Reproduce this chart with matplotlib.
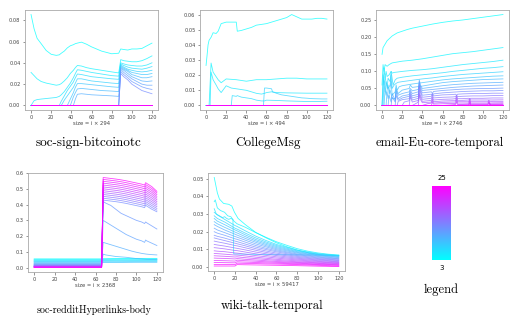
import matplotlib
matplotlib.use('Agg')

import matplotlib.pyplot as plt
from matplotlib import colors, colorbar

# k goes from 3 (cyan) to 25 (magenta)
k_values = [3, 4, 5, 6, 7, 8, 9, 10, 11, 12, 13, 14, 15, 16, 17, 18, 19, 20, 21, 22, 23, 24, 25]

# ---- soc-sign-bitcoinotc ----
btc_x = [
    [0, 3, 6, 10, 15, 20, 25, 28, 30, 33, 36, 39, 42, 44, 46, 50, 55, 60, 70, 80, 87, 89, 92, 96, 100, 105, 110, 115, 120],
    [0, 3, 6, 10, 15, 20, 25, 28, 30, 33, 36, 39, 42, 44, 46, 50, 55, 60, 70, 80, 87, 89, 92, 96, 100, 105, 110, 115, 120],
    [0, 3, 6, 10, 15, 20, 25, 28, 30, 33, 36, 39, 42, 44, 46, 50, 55, 60, 70, 80, 87, 89, 92, 96, 100, 105, 110, 115, 120],
    [0, 28, 30, 33, 36, 39, 42, 44, 46, 50, 55, 60, 70, 80, 87, 89, 92, 96, 100, 105, 110, 115, 120],
    [0, 30, 33, 36, 39, 42, 44, 46, 50, 55, 60, 70, 80, 87, 89, 92, 96, 100, 105, 110, 115, 120],
    [0, 36, 39, 42, 44, 46, 50, 55, 60, 70, 80, 87, 89, 92, 96, 100, 105, 110, 115, 120],
    [0, 39, 42, 44, 46, 50, 55, 60, 70, 80, 87, 89, 92, 96, 100, 105, 110, 115, 120],
    [0, 42, 44, 46, 50, 55, 60, 70, 80, 87, 89, 92, 96, 100, 105, 110, 115, 120],
    [0, 87, 89, 92, 96, 100, 105, 110, 115, 120],
    [0, 87, 89, 92, 96, 100, 105, 110, 115, 120],
    [0, 87, 89, 92, 96, 100, 105, 110, 115, 120],
    [0, 120], [0, 120], [0, 120], [0, 120], [0, 120], [0, 120],
    [0, 120], [0, 120], [0, 120], [0, 120], [0, 120], [0, 120],
]
btc_y = [
    [0.0853, 0.072, 0.063, 0.058, 0.0516, 0.048, 0.047, 0.0475, 0.049, 0.051, 0.054, 0.056, 0.057, 0.058, 0.0585,
     0.0594, 0.0575, 0.055, 0.051, 0.0485, 0.049, 0.053, 0.0525, 0.052, 0.053, 0.053, 0.0535, 0.056, 0.0585],
    [0.031, 0.028, 0.025, 0.0225, 0.021, 0.020, 0.019, 0.0195, 0.0205, 0.023, 0.026, 0.030, 0.033, 0.0355, 0.0375,
     0.037, 0.0355, 0.0345, 0.033, 0.0315, 0.0305, 0.043, 0.042, 0.0415, 0.041, 0.041, 0.042, 0.044, 0.0465],
    [0.0, 0.0045, 0.0055, 0.006, 0.0065, 0.007, 0.0075, 0.0085, 0.010, 0.013, 0.017, 0.021, 0.026, 0.030, 0.0335,
     0.033, 0.032, 0.031, 0.0295, 0.028, 0.0275, 0.040, 0.039, 0.038, 0.0375, 0.037, 0.037, 0.038, 0.040],
    [0, 0, 0.004, 0.009, 0.014, 0.018, 0.022, 0.026, 0.0295, 0.029, 0.028, 0.027, 0.026, 0.025, 0.0245,
     0.039, 0.0375, 0.036, 0.035, 0.0345, 0.034, 0.035, 0.0365],
    [0, 0, 0.005, 0.009, 0.013, 0.017, 0.021, 0.025, 0.025, 0.024, 0.023, 0.022, 0.021, 0.0205,
     0.038, 0.036, 0.034, 0.033, 0.032, 0.0315, 0.032, 0.033],
    [0, 0, 0.006, 0.012, 0.017, 0.0205, 0.0205, 0.020, 0.0195, 0.0185, 0.0175, 0.017,
     0.037, 0.035, 0.033, 0.031, 0.030, 0.029, 0.029, 0.030],
    [0, 0, 0.008, 0.012, 0.0155, 0.016, 0.0155, 0.015, 0.014, 0.0135, 0.013,
     0.036, 0.034, 0.032, 0.029, 0.0275, 0.026, 0.026, 0.027],
    [0, 0, 0.006, 0.0105, 0.011, 0.0105, 0.010, 0.0095, 0.009, 0.0085,
     0.035, 0.033, 0.030, 0.027, 0.025, 0.023, 0.0225, 0.023],
    [0, 0, 0.034, 0.031, 0.028, 0.025, 0.0225, 0.020, 0.019, 0.019],
    [0, 0, 0.032, 0.029, 0.026, 0.0225, 0.020, 0.0175, 0.016, 0.015],
    [0, 0, 0.030, 0.027, 0.024, 0.020, 0.017, 0.014, 0.0125, 0.011],
    [0, 0], [0, 0], [0, 0], [0, 0], [0, 0], [0, 0],
    [0, 0], [0, 0], [0, 0], [0, 0], [0, 0], [0, 0],
]

# ---- CollegeMsg ----
msg_x = [
    [0, 1, 2, 3, 4, 5, 7, 10, 12, 15, 20, 25, 30, 31, 35, 40, 45, 50, 55, 60, 65, 70, 75, 80, 85, 90, 95, 100, 105, 110, 115, 120],
    [0, 3, 4, 5, 7, 10, 12, 15, 20, 30, 40, 50, 60, 70, 80, 90, 100, 110, 120],
    [0, 4, 5, 7, 10, 12, 15, 20, 25, 30, 35, 40, 45, 50, 55, 58, 60, 65, 70, 80, 90, 100, 110, 120],
    [0, 25, 26, 30, 31, 35, 40, 45, 50, 55, 58, 60, 70, 80, 90, 100, 110, 120],
    [0, 57, 58, 60, 65, 66, 70, 75, 80, 85, 90, 95, 100, 105, 110, 115, 120],
    [0, 120], [0, 120], [0, 120], [0, 120], [0, 120], [0, 120], [0, 120], [0, 120], [0, 120],
    [0, 120], [0, 120], [0, 120], [0, 120], [0, 120], [0, 120], [0, 120], [0, 120], [0, 120],
]
msg_y = [
    [0.0264, 0.033, 0.040, 0.043, 0.044, 0.045, 0.048, 0.0475, 0.049, 0.054, 0.055, 0.055, 0.055, 0.049, 0.0495, 0.0505,
     0.0515, 0.053, 0.0535, 0.054, 0.055, 0.056, 0.057, 0.058, 0.060, 0.0585, 0.057, 0.057, 0.057, 0.0575, 0.0575, 0.057],
    [0, 0, 0.014, 0.028, 0.022, 0.019, 0.017, 0.015, 0.0175, 0.017, 0.016, 0.017, 0.017, 0.0175, 0.018, 0.018, 0.0175,
     0.0175, 0.0175],
    [0, 0, 0.022, 0.017, 0.0135, 0.011, 0.0085, 0.013, 0.0115, 0.011, 0.0105, 0.010, 0.009, 0.008, 0.0075, 0.008, 0.0085,
     0.009, 0.0085, 0.0083, 0.0082, 0.0081, 0.0081, 0.0081],
    [0, 0, 0.0065, 0.006, 0.0065, 0.0055, 0.005, 0.0045, 0.0035, 0.003, 0.003, 0.0035, 0.0033, 0.003, 0.0028, 0.0026,
     0.0026, 0.0028],
    [0, 0, 0.0115, 0.0115, 0.011, 0.009, 0.008, 0.007, 0.0065, 0.006, 0.0055, 0.005, 0.0048, 0.0045, 0.0044, 0.0043,
     0.0043],
    [0, 0], [0, 0], [0, 0], [0, 0], [0, 0], [0, 0], [0, 0], [0, 0], [0, 0],
    [0, 0], [0, 0], [0, 0], [0, 0], [0, 0], [0, 0], [0, 0], [0, 0], [0, 0],
]

# ---- email-Eu-core-temporal ----
email_x = [
    [0, 1, 3, 5, 10, 15, 20, 25, 30, 40, 50, 60, 70, 80, 90, 100, 110, 120],
    [0, 1, 2, 3, 5, 7, 10, 20, 30, 40, 50, 60, 70, 80, 90, 100, 110, 120],
    [0, 1, 2, 3, 4, 5, 7, 9, 10, 12, 15, 20, 30, 40, 50, 60, 70, 80, 90, 100, 110, 120],
    [0, 1, 2, 3, 5, 6, 8, 9, 11, 13, 15, 20, 30, 40, 50, 60, 70, 80, 90, 100, 110, 120],
    [0, 1, 2, 3, 4, 6, 8, 9, 10, 12, 14, 16, 20, 30, 40, 50, 60, 70, 80, 90, 100, 110, 120],
    [0, 2, 3, 4, 6, 7, 9, 10, 13, 14, 15, 17, 20, 30, 40, 50, 60, 70, 80, 90, 100, 110, 120],
    [0, 4, 5, 6, 8, 10, 13, 14, 16, 20, 27, 28, 30, 40, 50, 60, 70, 80, 90, 100, 110, 120],
    [0, 6, 7, 9, 10, 13, 14, 16, 20, 27, 28, 30, 36, 37, 38, 40, 50, 60, 70, 80, 90, 100, 110, 120],
    [0, 9, 10, 13, 14, 16, 20, 27, 28, 30, 36, 37, 38, 40, 50, 60, 70, 80, 90, 100, 110, 120],
    [0, 13, 14, 16, 20, 27, 28, 30, 36, 37, 38, 40, 49, 50, 51, 60, 70, 80, 90, 100, 110, 120],
    [0, 15, 16, 20, 27, 28, 30, 36, 37, 38, 40, 49, 50, 51, 60, 70, 80, 90, 100, 110, 120],
    [0, 20, 22, 27, 28, 30, 36, 37, 38, 40, 49, 50, 51, 60, 70, 73, 74, 75, 80, 90, 100, 110, 120],
    [0, 27, 28, 30, 36, 37, 38, 40, 49, 50, 51, 60, 70, 73, 74, 75, 80, 90, 100, 110, 120],
    [0, 30, 35, 36, 37, 38, 40, 49, 50, 51, 60, 70, 73, 74, 75, 80, 86, 87, 88, 90, 100, 110, 120],
    [0, 36, 37, 38, 40, 49, 50, 51, 60, 70, 73, 74, 75, 80, 86, 87, 88, 90, 100, 110, 120],
    [0, 40, 45, 49, 50, 51, 60, 70, 73, 74, 75, 80, 86, 87, 88, 100, 105, 106, 107, 110, 120],
    [0, 49, 50, 51, 60, 70, 73, 74, 75, 80, 86, 87, 88, 100, 105, 106, 107, 110, 120],
    [0, 60, 70, 73, 74, 75, 80, 86, 87, 88, 100, 105, 106, 107, 110, 120],
    [0, 74, 75, 80, 86, 87, 88, 100, 105, 106, 107, 110, 120],
    [0, 86, 87, 88, 100, 106, 107, 108, 110, 120],
    [0, 120], [0, 120], [0, 120],
]
email_y = [
    [0.150, 0.170, 0.180, 0.190, 0.204, 0.213, 0.218, 0.223, 0.227, 0.233, 0.239, 0.244, 0.248, 0.251, 0.255, 0.259,
     0.263, 0.267],
    [0.06, 0.12, 0.10, 0.12, 0.115, 0.12, 0.125, 0.13, 0.133, 0.137, 0.142, 0.147, 0.152, 0.155, 0.158, 0.162, 0.166,
     0.170],
    [0, 0.05, 0.11, 0.08, 0.10, 0.085, 0.09, 0.10, 0.095, 0.097, 0.098, 0.100, 0.103, 0.105, 0.108, 0.112, 0.116,
     0.120, 0.123, 0.126, 0.129, 0.133],
    [0, 0.09, 0.06, 0.085, 0.05, 0.08, 0.07, 0.10, 0.06, 0.075, 0.08, 0.083, 0.087, 0.09, 0.093, 0.096, 0.1, 0.103,
     0.106, 0.109, 0.111, 0.114],
    [0, 0, 0.07, 0.04, 0.07, 0.05, 0.06, 0.09, 0.05, 0.06, 0.065, 0.068, 0.07, 0.074, 0.078, 0.081, 0.085, 0.088,
     0.091, 0.093, 0.095, 0.097, 0.099],
    [0, 0, 0.05, 0.03, 0.06, 0.035, 0.07, 0.03, 0.04, 0.06, 0.045, 0.055, 0.058, 0.063, 0.067, 0.071, 0.075, 0.078,
     0.080, 0.082, 0.084, 0.086, 0.087],
    [0, 0, 0.04, 0.02, 0.045, 0.02, 0.02, 0.05, 0.035, 0.045, 0.05, 0.06, 0.053, 0.057, 0.062, 0.067, 0.070, 0.072,
     0.074, 0.076, 0.077, 0.078],
    [0, 0, 0.03, 0.01, 0.035, 0.015, 0.045, 0.03, 0.035, 0.04, 0.05, 0.043, 0.047, 0.075, 0.06, 0.05, 0.054, 0.058,
     0.061, 0.063, 0.065, 0.066, 0.067, 0.068],
    [0, 0, 0.025, 0.01, 0.04, 0.02, 0.028, 0.032, 0.045, 0.035, 0.04, 0.07, 0.055, 0.044, 0.047, 0.05, 0.053, 0.055,
     0.057, 0.058, 0.059, 0.06],
    [0, 0, 0.03, 0.015, 0.022, 0.027, 0.04, 0.028, 0.033, 0.065, 0.05, 0.037, 0.04, 0.035, 0.041, 0.044, 0.046, 0.048,
     0.049, 0.05, 0.05, 0.051],
    [0, 0, 0.012, 0.017, 0.02, 0.035, 0.022, 0.027, 0.06, 0.045, 0.03, 0.033, 0.03, 0.034, 0.037, 0.039, 0.041, 0.042,
     0.043, 0.043, 0.044],
    [0, 0, 0.01, 0.014, 0.03, 0.016, 0.021, 0.055, 0.04, 0.024, 0.027, 0.035, 0.028, 0.031, 0.032, 0.033, 0.03, 0.033,
     0.034, 0.035, 0.035, 0.036, 0.036],
    [0, 0, 0.025, 0.01, 0.015, 0.045, 0.03, 0.018, 0.021, 0.03, 0.022, 0.024, 0.025, 0.026, 0.03, 0.026, 0.027, 0.028,
     0.028, 0.029, 0.029],
    [0, 0, 0.008, 0.012, 0.035, 0.025, 0.012, 0.015, 0.025, 0.016, 0.018, 0.019, 0.02, 0.028, 0.02, 0.02, 0.021, 0.02,
     0.021, 0.021, 0.021, 0.022, 0.022],
    [0, 0, 0.03, 0.018, 0.008, 0.01, 0.02, 0.011, 0.013, 0.014, 0.014, 0.025, 0.015, 0.015, 0.016, 0.02, 0.016, 0.016,
     0.016, 0.016, 0.0165],
    [0, 0, 0.005, 0.007, 0.015, 0.007, 0.009, 0.01, 0.01, 0.02, 0.011, 0.011, 0.011, 0.018, 0.011, 0.011, 0.011,
     0.015, 0.011, 0.012, 0.012],
    [0, 0, 0.01, 0.004, 0.005, 0.006, 0.006, 0.015, 0.007, 0.007, 0.007, 0.015, 0.007, 0.007, 0.007, 0.013, 0.007,
     0.0075, 0.008],
    [0, 0, 0.002, 0.003, 0.01, 0.003, 0.003, 0.004, 0.012, 0.004, 0.004, 0.004, 0.01, 0.004, 0.0045, 0.005],
    [0, 0, 0.001, 0.001, 0.002, 0.008, 0.002, 0.002, 0.002, 0.008, 0.002, 0.0025, 0.003],
    [0, 0, 0.005, 0.0005, 0.0008, 0.001, 0.006, 0.001, 0.001, 0.001],
    [0, 0], [0, 0], [0, 0],
]

# ---- soc-redditHyperlinks-body ----
reddit_x = [
    [0, 66, 67.5, 80, 100, 120],
    [0, 66, 67.5, 80, 100, 120],
    [0, 66, 67.5, 80, 100, 120],
    [0, 66, 67.5, 80, 100, 120],
    [0, 66, 67.5, 80, 100, 120],
    [0, 66, 67.5, 80, 100, 120],
    [0, 66, 67.5, 70, 80, 90, 100, 110, 120],
    [0, 66, 67.5, 70, 75, 80, 85, 90, 95, 100, 105, 110, 115, 120],
    [0, 66, 67.5, 70, 75, 80, 85, 90, 95, 100, 105, 108, 109, 110, 115, 120],
    [0, 66, 67.5, 70, 75, 80, 85, 90, 95, 100, 105, 108, 109, 110, 115, 120],
] + [[0, 66, 67.5, 70, 75, 80, 85, 90, 95, 100, 105, 108, 109, 115, 120]] * 13
reddit_y = [
    [0.055, 0.055, 0.056, 0.057, 0.058, 0.058],
    [0.050, 0.050, 0.052, 0.053, 0.054, 0.054],
    [0.046, 0.046, 0.047, 0.048, 0.049, 0.049],
    [0.042, 0.042, 0.043, 0.043, 0.044, 0.044],
    [0.038, 0.038, 0.037, 0.037, 0.038, 0.038],
    [0.034, 0.034, 0.032, 0.032, 0.033, 0.033],
    [0.030, 0.030, 0.085, 0.080, 0.070, 0.065, 0.057, 0.052, 0.050],
    [0.026, 0.026, 0.160, 0.155, 0.145, 0.135, 0.125, 0.115, 0.105, 0.097, 0.090, 0.085, 0.082, 0.080],
    [0.022, 0.022, 0.300, 0.290, 0.270, 0.250, 0.230, 0.210, 0.195, 0.180, 0.170, 0.160, 0.175, 0.170, 0.155, 0.140],
    [0.019, 0.019, 0.420, 0.410, 0.395, 0.370, 0.345, 0.330, 0.315, 0.300, 0.290, 0.280, 0.290, 0.285, 0.265, 0.245],
    [0.016, 0.016, 0.429, 0.427, 0.423, 0.419, 0.414, 0.408, 0.401, 0.394, 0.387, 0.381, 0.396, 0.371, 0.355],
    [0.014, 0.014, 0.441, 0.439, 0.435, 0.431, 0.426, 0.420, 0.413, 0.406, 0.399, 0.393, 0.408, 0.383, 0.365],
    [0.012, 0.012, 0.453, 0.451, 0.447, 0.443, 0.438, 0.432, 0.425, 0.418, 0.411, 0.405, 0.420, 0.395, 0.376],
    [0.010, 0.010, 0.465, 0.463, 0.459, 0.455, 0.450, 0.444, 0.437, 0.430, 0.423, 0.417, 0.432, 0.407, 0.387],
    [0.008, 0.008, 0.477, 0.475, 0.471, 0.467, 0.462, 0.456, 0.449, 0.442, 0.435, 0.429, 0.444, 0.419, 0.398],
    [0.007, 0.007, 0.489, 0.487, 0.483, 0.479, 0.474, 0.468, 0.461, 0.454, 0.447, 0.441, 0.456, 0.431, 0.409],
    [0.006, 0.006, 0.501, 0.499, 0.495, 0.491, 0.486, 0.480, 0.473, 0.466, 0.459, 0.453, 0.468, 0.443, 0.420],
    [0.005, 0.005, 0.513, 0.511, 0.507, 0.503, 0.498, 0.492, 0.485, 0.478, 0.471, 0.465, 0.480, 0.455, 0.431],
    [0.004, 0.004, 0.525, 0.523, 0.519, 0.515, 0.510, 0.504, 0.497, 0.490, 0.483, 0.477, 0.492, 0.467, 0.442],
    [0.003, 0.003, 0.537, 0.535, 0.531, 0.527, 0.522, 0.516, 0.509, 0.502, 0.495, 0.489, 0.504, 0.479, 0.453],
    [0.002, 0.002, 0.549, 0.547, 0.543, 0.539, 0.534, 0.528, 0.521, 0.514, 0.507, 0.501, 0.516, 0.491, 0.464],
    [0.001, 0.001, 0.561, 0.559, 0.555, 0.551, 0.546, 0.540, 0.533, 0.526, 0.519, 0.513, 0.528, 0.503, 0.475],
    [0.000, 0.000, 0.573, 0.571, 0.567, 0.563, 0.558, 0.552, 0.545, 0.538, 0.531, 0.525, 0.540, 0.515, 0.485],
]

# ---- wiki-talk-temporal ----
wiki_grid = [0, 3, 10, 20, 22, 30, 40, 50, 60, 80, 100, 120]
wiki_x = [
    [0, 3, 5, 9, 14, 17, 19.5, 23, 30, 40, 50, 60, 70, 80, 92, 105, 120],
    [0, 1, 3, 6, 10, 13, 16, 19, 22, 30, 40, 50, 60, 70, 80, 90, 100, 110, 120],
    [0, 2, 5, 8, 10, 12, 14, 16, 18, 18.8, 20, 30, 40, 60, 80, 100, 120],
] + [wiki_grid] * 20
wiki_y = [
    [0.0507, 0.042, 0.0385, 0.036, 0.0355, 0.0345, 0.031, 0.0275, 0.024, 0.0196, 0.0165, 0.0137, 0.0115, 0.0097,
     0.0079, 0.0068, 0.0064],
    [0.037, 0.038, 0.0335, 0.032, 0.031, 0.029, 0.0285, 0.026, 0.0245, 0.0225, 0.0195, 0.0168, 0.0143, 0.0123,
     0.0104, 0.009, 0.008, 0.0073, 0.0068],
    [0.033, 0.030, 0.029, 0.028, 0.0285, 0.0275, 0.027, 0.0275, 0.027, 0.0075, 0.0074, 0.0073, 0.0072, 0.007, 0.0069,
     0.0068, 0.0067],
    [0.031, 0.0295, 0.027, 0.0235, 0.023, 0.0205, 0.0175, 0.015, 0.0128, 0.0095, 0.0076, 0.0065],
    [0.029, 0.0275, 0.0255, 0.022, 0.0215, 0.0192, 0.0165, 0.0142, 0.0122, 0.0091, 0.0073, 0.0063],
    [0.0275, 0.026, 0.024, 0.021, 0.0205, 0.0182, 0.0156, 0.0135, 0.0116, 0.0087, 0.007, 0.0060],
    [0.0257, 0.0245, 0.0225, 0.0198, 0.0193, 0.0172, 0.0148, 0.0128, 0.011, 0.0083, 0.0067, 0.0057],
    [0.024, 0.023, 0.021, 0.0186, 0.0181, 0.0162, 0.014, 0.0121, 0.0104, 0.0079, 0.0064, 0.0054],
    [0.022, 0.021, 0.0195, 0.0173, 0.0169, 0.0152, 0.0131, 0.0114, 0.0098, 0.0074, 0.006, 0.0050],
    [0.020, 0.0192, 0.018, 0.016, 0.0157, 0.0141, 0.0122, 0.0106, 0.0092, 0.007, 0.0056, 0.0047],
    [0.018, 0.0174, 0.0164, 0.0147, 0.0144, 0.013, 0.0113, 0.0099, 0.0086, 0.0065, 0.0052, 0.0044],
    [0.0165, 0.016, 0.015, 0.0135, 0.0132, 0.012, 0.0104, 0.0091, 0.0079, 0.006, 0.0048, 0.0040],
    [0.0147, 0.0143, 0.0135, 0.0122, 0.012, 0.0109, 0.0095, 0.0083, 0.0072, 0.0055, 0.0044, 0.0037],
    [0.0128, 0.0125, 0.0119, 0.0108, 0.0106, 0.0097, 0.0085, 0.0075, 0.0065, 0.005, 0.004, 0.0033],
    [0.011, 0.0108, 0.0103, 0.0094, 0.0093, 0.0085, 0.0075, 0.0066, 0.0058, 0.0045, 0.0036, 0.0030],
    [0.0092, 0.009, 0.0087, 0.008, 0.0079, 0.0073, 0.0065, 0.0058, 0.0051, 0.004, 0.0032, 0.0026],
    [0.0077, 0.0076, 0.0073, 0.0068, 0.0068, 0.0063, 0.0056, 0.005, 0.0044, 0.0035, 0.0028, 0.0023],
    [0.0064, 0.0063, 0.0061, 0.0057, 0.0058, 0.0053, 0.0048, 0.0043, 0.0038, 0.003, 0.0024, 0.0020],
    [0.0051, 0.005, 0.0049, 0.0046, 0.0048, 0.0044, 0.004, 0.0036, 0.0032, 0.0026, 0.0021, 0.0016],
    [0.0037, 0.0037, 0.0036, 0.0034, 0.0039, 0.0036, 0.0033, 0.003, 0.0027, 0.0022, 0.0017, 0.0013],
    [0.0026, 0.0026, 0.0025, 0.0024, 0.003, 0.0028, 0.0026, 0.0024, 0.0022, 0.0018, 0.0014, 0.0010],
    [0.0015, 0.0015, 0.0015, 0.0014, 0.0022, 0.0021, 0.002, 0.0018, 0.0017, 0.0014, 0.001, 0.0006],
    [0.0006, 0.0006, 0.0006, 0.0006, 0.0014, 0.0013, 0.0012, 0.0011, 0.001, 0.0008, 0.0005, 0.0003],
]

titles = ['soc-sign-bitcoinotc', 'CollegeMsg', 'email-Eu-core-temporal',
          'soc-redditHyperlinks-body', 'wiki-talk-temporal']
xlabels = ['size = i \u00d7 294', 'size = i \u00d7 494', 'size = i \u00d7 2746',
           'size = i \u00d7 2368', 'size = i \u00d7 59417']
xs_all = [btc_x, msg_x, email_x, reddit_x, wiki_x]
ys_all = [btc_y, msg_y, email_y, reddit_y, wiki_y]

# panel boxes in pixels: left, top, right, bottom
boxes = [(25, 10, 158, 110), (200, 10, 333, 110), (376, 10, 509, 110),
         (28, 173, 163, 272), (208, 173, 345, 271)]
title_pos = [(89, 143, 9.5), (268, 143, 9.5), (440, 143, 9), (94, 310, 7.2), (272, 306, 9.2)]

W, H = 528, 320
fig = plt.figure(figsize=(W / 100, H / 100), dpi=100)
cmap = plt.get_cmap('cool')
norm = colors.Normalize(vmin=3, vmax=25)

for i in range(5):
    l, t, r, b = boxes[i]
    ax = fig.add_axes([l / W, 1 - b / H, (r - l) / W, (b - t) / H])
    for k, x, y in zip(k_values, xs_all[i], ys_all[i]):
        ax.plot(x, y, color=cmap(norm(k)), lw=0.6, alpha=0.75)
    ax.set_xticks([0, 20, 40, 60, 80, 100, 120])
    ax.tick_params(labelsize=3.6, length=1.8, width=0.4, pad=1.5, colors='#444444')
    for s in ax.spines.values():
        s.set_color('#aaaaaa')
        s.set_linewidth(0.6)
    ax.set_xlabel(xlabels[i], fontsize=3.8, labelpad=1.0, color='#444444')
    tx, ty, fs = title_pos[i]
    fig.text(tx / W, 1 - ty / H, titles[i], ha='center', va='center',
             fontsize=fs, family='cmr10')

# colour legend for k
cax = fig.add_axes([432 / W, 1 - 260 / H, 19 / W, 74 / H])
cb = colorbar.ColorbarBase(cax, cmap=cmap, norm=norm)
cb.set_ticks([])
cb.outline.set_visible(False)
fig.text(441.5 / W, 1 - 178 / H, '25', ha='center', va='center', fontsize=5)
fig.text(441.5 / W, 1 - 268 / H, '3', ha='center', va='center', fontsize=5)
fig.text(441.5 / W, 1 - 290 / H, 'legend', ha='center', va='center', fontsize=9, family='cmr10')

plt.savefig('out.png', dpi=100)
